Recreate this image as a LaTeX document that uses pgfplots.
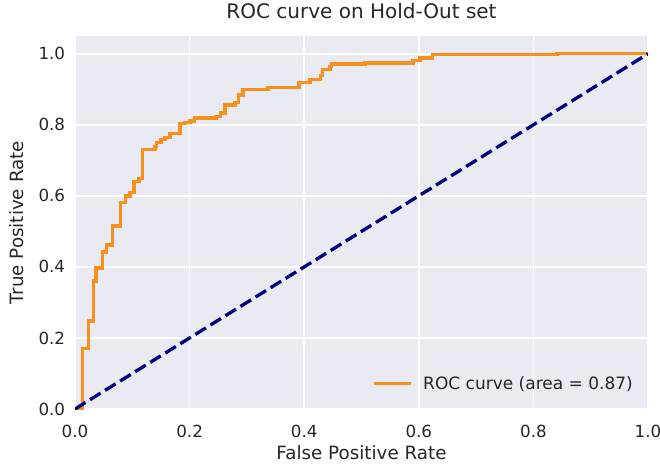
\documentclass[border=0pt]{standalone}
\usepackage{pgfplots}
\pgfplotsset{compat=1.18}
\usepackage{fontspec}
\setmainfont{DejaVu Sans}
\definecolor{bg}{HTML}{EAEAF2}
\definecolor{txt}{HTML}{262626}
\definecolor{roc}{HTML}{F8901E}
\definecolor{navyc}{HTML}{000080}
\begin{document}
\begin{tikzpicture}[x=1pt,y=1pt]
\useasboundingbox (0,0) rectangle (660,467);
\begin{axis}[
  at={(75pt,58pt)}, anchor=south west,
  scale only axis, width=573pt, height=373pt,
  xmin=0, xmax=1, ymin=0, ymax=1.05,
  axis background/.style={fill=bg},
  axis line style={draw=none},
  grid=major, major grid style={white, line width=1.5pt},
  tick style={draw=none},
  xtick={0,0.2,0.4,0.6,0.8,1.0},
  ytick={0,0.2,0.4,0.6,0.8,1.0},
  /pgf/number format/.cd, fixed, fixed zerofill, precision=1, assume math mode=true,
  /pgfplots/.cd,
  ticklabel style={font=\fontsize{16.7}{19}\selectfont, text=txt},
  xticklabel style={yshift=-13pt},
  yticklabel style={xshift=-6.4pt},
  xlabel={False Positive Rate},
  ylabel={True Positive Rate},
  label style={font=\fontsize{18.3}{21}\selectfont, text=txt},
  xlabel style={at={(axis description cs:0.5,0)}, anchor=base, yshift=-50pt},
  ylabel style={at={(axis description cs:0,0.5)}, anchor=center, rotate=0, yshift=58pt},
  title={ROC curve on Hold-Out set},
  title style={font=\fontsize{20}{23}\selectfont, text=txt, at={(axis description cs:0.5,1)}, anchor=base, yshift=11pt},
  legend style={draw=none, fill=none, at={(rel axis cs:1,0)}, anchor=south east,
    xshift=-10pt, yshift=14pt, font=\fontsize{17}{19}\selectfont, text=txt},
  legend cell align=left,
  legend image code/.code={\draw[#1] (0pt,0pt) -- (37pt,0pt); \path (46pt,0pt);},
]
\addplot[const plot, roc, line width=3.3pt] coordinates {
(0,0) (0.0134,0.17) (0.0232,0.248) (0.0319,0.36) (0.0366,0.397)
(0.0476,0.442) (0.0553,0.462) (0.0651,0.515) (0.0798,0.582)
(0.0885,0.60) (0.096,0.609) (0.103,0.64) (0.1117,0.648) (0.1175,0.73)
(0.1396,0.739) (0.1425,0.75) (0.150,0.758) (0.157,0.765) (0.1658,0.775)
(0.1832,0.803) (0.192,0.806) (0.2007,0.811) (0.208,0.819) (0.246,0.823)
(0.254,0.833) (0.262,0.856) (0.279,0.863) (0.285,0.884) (0.293,0.899)
(0.337,0.906) (0.391,0.92) (0.410,0.928) (0.429,0.938) (0.432,0.955)
(0.445,0.964) (0.448,0.971) (0.506,0.974) (0.590,0.981) (0.602,0.988)
(0.624,0.997) (0.841,1.0) (1.0,1.0)
};
\addlegendentry{ROC curve (area = 0.87)}
\addplot[navyc, line width=3.3pt, dash pattern=on 12.4pt off 5.3pt, forget plot] coordinates {(0,0) (1,1)};
\end{axis}
\end{tikzpicture}
\end{document}
